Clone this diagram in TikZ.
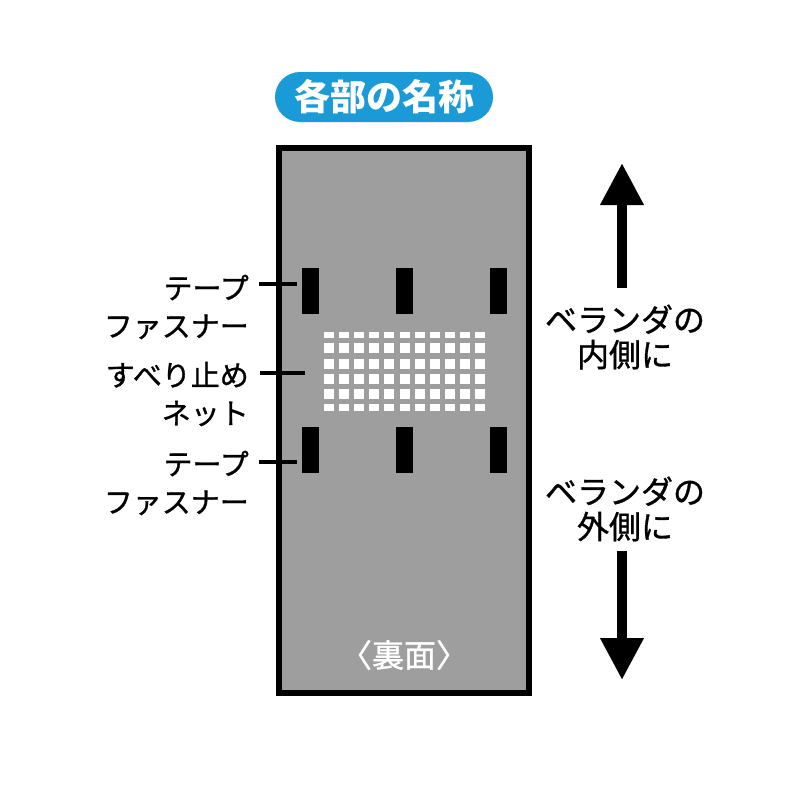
\documentclass[tikz,border=0pt]{standalone}
\usepackage{fontspec}
\setmainfont{Noto Sans CJK JP}
\newfontfamily\labelfont{Noto Sans CJK JP}[FakeBold=1.0]
\usetikzlibrary{arrows.meta}
\definecolor{panelgray}{RGB}{158,158,158}
\definecolor{titleblue}{RGB}{26,154,214}
\tikzset{
  fastener/.style={fill=black, draw=none, minimum width=17pt, minimum height=46pt, inner sep=0pt},
  leader/.style={line width=4pt},
  lefttext/.style={anchor=east, align=right, inner sep=0pt, font=\labelfont\fontsize{29}{38}\selectfont},
  righttext/.style={align=center, inner sep=0pt, font=\labelfont\fontsize{32}{35}\selectfont},
  bigarrow/.style={line width=10pt, -{Triangle[width=41pt,length=42pt]}}
}
\begin{document}
\begin{tikzpicture}[x=1pt, y=-1pt]
    \useasboundingbox[fill=white] (0,0) rectangle (800,800);

    % Draw the title
    \node[fill=titleblue, rounded corners=25pt, minimum width=218pt, minimum height=50pt, inner sep=0pt,
          text=white, font=\fontsize{36}{36}\selectfont\bfseries] (title) at (384,97) {各部の名称};

    % Draw the panel
    \draw[line width=6pt, fill=panelgray] (279,148) rectangle (529,693);
    \node[text=white, inner sep=0pt, font=\labelfont\fontsize{32}{32}\selectfont] (back) at (404,655) {〈裏面〉};

    % Draw the tape fasteners
    \foreach \x [count=\k] in {310.5, 404.5, 498} {
        \node[fastener] (ftop\k) at (\x,291) {};
        \node[fastener] (fbot\k) at (\x,450) {};
    }

    % Draw the net
    \begin{scope}
        \clip (323,332) rectangle (487,410);
        \foreach \i in {0,...,10}
            \foreach \j in {0,...,5}
                \fill[white] (324+15.1*\i, 328+15.25*\j) rectangle ++(10,10);
    \end{scope}

    % Labels on the left
    \node[lefttext] (tapetop) at (249,307) {テープ\\ファスナー};
    \node[lefttext] (net) at (249,394) {すべり止め\\ネット};
    \node[lefttext] (tapebot) at (249,483) {テープ\\ファスナー};

    % Leader lines
    \coordinate (ltop) at (259,284);
    \coordinate (rtop) at (297,284);
    \coordinate (lnet) at (260,373);
    \coordinate (rnet) at (305,373);
    \coordinate (lbot) at (259,462);
    \coordinate (rbot) at (297,462);
    \draw[leader] (ltop) -- (rtop);
    \draw[leader] (lnet) -- (rnet);
    \draw[leader] (lbot) -- (rbot);

    % Labels on the right
    \node[righttext] (inside) at (625,337) {ベランダの\\内側に};
    \node[righttext] (outside) at (625,509) {ベランダの\\外側に};

    % Draw the arrows
    \coordinate (upfoot) at (622,288);
    \coordinate (uptip) at (622,163);
    \coordinate (downfoot) at (622,551);
    \coordinate (downtip) at (622,680);
    \draw[bigarrow] (upfoot) -- (uptip);
    \draw[bigarrow] (downfoot) -- (downtip);
\end{tikzpicture}
\end{document}
